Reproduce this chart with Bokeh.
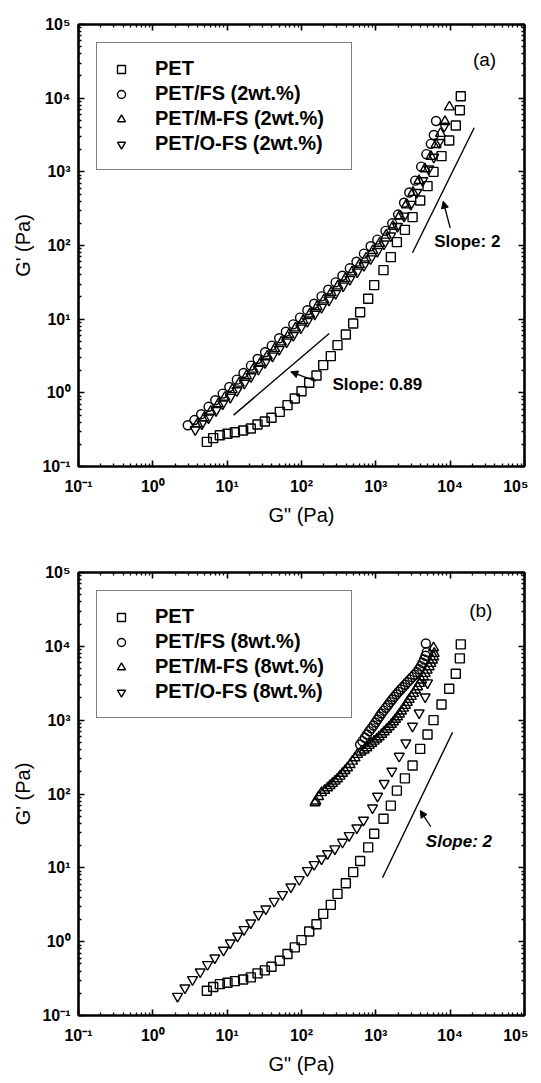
from bokeh.plotting import figure
from bokeh.layouts import column
from bokeh.models import (LogAxis, FixedTicker, Legend, LegendItem, Arrow, NormalHead,
                          Label, CustomJSTickFormatter)
from bokeh.embed import file_html
from bokeh.resources import INLINE

# ---------------- data ----------------
# neat PET (same sample in both panels)
pet_x = [5.33, 6.49, 7.97, 10.1, 12.7, 16.4, 20.8, 25.6, 32.1, 39.5, 51.1, 64.8, 81.3, 100, 127,
         159, 196, 248, 305, 395, 496, 615, 789, 950, 1268, 1592, 1920, 2460, 3120, 3950, 4960,
         5970, 7650, 9700, 11900, 13500, 13900]
pet_y = [0.216, 0.243, 0.266, 0.278, 0.292, 0.308, 0.328, 0.372, 0.408, 0.458, 0.552, 0.680, 0.838,
         1.05, 1.37, 1.72, 2.38, 3.15, 4.44, 6.19, 8.74, 12.4, 18.9, 29.0, 46.3, 69.5, 111, 163, 243,
         408, 639, 1000, 1632, 2663, 4256, 6870, 10640]

# panel (a): 2 wt.%
fs2_x = [2.95, 3.63, 4.47, 5.62, 6.92, 8.71, 10.7, 13.5, 16.6, 20.9, 25.7, 32.4, 39.8, 50.1, 61.7,
         77.6, 95.5, 120, 148, 186, 229, 288, 355, 447, 550, 692, 851, 1047, 1349, 1660, 1995, 2399,
         2818, 3388, 4074, 4786, 5495, 6026, 6457]
fs2_y = [0.363, 0.427, 0.513, 0.646, 0.794, 0.977, 1.20, 1.51, 1.86, 2.34, 2.88, 3.55, 4.37, 5.50,
         6.76, 8.51, 10.5, 13.2, 16.2, 20.4, 25.1, 31.6, 38.9, 49.0, 60.3, 77.6, 97.7, 120, 158, 200,
         263, 380, 525, 759, 1175, 1738, 2399, 3162, 4898]
mfs2_x = [3.98, 4.90, 6.03, 7.59, 9.33, 11.7, 14.5, 18.2, 22.4, 28.2, 34.7, 43.7, 53.7, 67.6, 83.2,
          105, 129, 162, 200, 251, 309, 389, 479, 603, 741, 912, 1122, 1380, 1698, 2089, 2570, 3162,
          3802, 4571, 5495, 6457, 7413, 8511, 9772]
mfs2_y = [0.380, 0.457, 0.562, 0.708, 0.871, 1.10, 1.35, 1.70, 2.09, 2.57, 3.16, 3.98, 4.90, 6.17,
          7.59, 9.55, 11.7, 14.8, 18.2, 22.9, 28.2, 35.5, 43.7, 55.0, 67.6, 85.1, 107, 138, 182, 251,
          355, 525, 759, 1096, 1622, 2344, 3311, 4786, 7586]
ofs2_x = [3.72, 4.57, 5.62, 7.08, 8.71, 11.0, 13.5, 17.0, 20.9, 26.3, 32.4, 40.7, 50.1, 63.1, 77.6,
          97.7, 120, 151, 186, 234, 288, 363, 447, 562, 692, 851, 1047, 1288, 1585, 1950, 2399, 2951,
          3548, 4266, 5129, 6026, 7079, 8318]
ofs2_y = [0.316, 0.380, 0.457, 0.575, 0.708, 0.871, 1.07, 1.35, 1.66, 2.09, 2.57, 3.16, 3.89, 4.90,
          6.03, 7.59, 9.33, 11.7, 14.5, 18.2, 22.4, 28.2, 34.7, 43.7, 53.7, 66.1, 83.2, 105, 135, 182,
          251, 363, 525, 759, 1096, 1585, 2512, 4169]

# panel (b): 8 wt.%
fs8_x = [615, 660, 711, 760, 814, 870, 931, 990, 1054, 1120, 1192, 1275, 1363, 1460, 1559, 1660,
         1766, 1890, 2018, 2160, 2309, 2480, 2668, 2870, 3084, 3320, 3563, 3800, 4033, 4250, 4467,
         4660, 4853, 4710]
fs8_y = [468, 520, 577, 640, 710, 775, 847, 930, 1021, 1120, 1231, 1345, 1468, 1605, 1753, 1905,
         2070, 2240, 2419, 2600, 2797, 3020, 3270, 3540, 3823, 4120, 4466, 4900, 5386, 5980, 6631,
         7450, 8337, 10920]
mfs8_x = [152, 156, 170, 186, 205, 224, 242, 261, 283, 305, 330, 356, 385, 416, 450, 486, 525, 567,
          630, 697, 755, 814, 880, 951, 1030, 1109, 1200, 1295, 1400, 1512, 1620, 1729, 1840, 1957,
          2080, 2216, 2360, 2507, 2650, 2809, 3000, 3214, 3420, 3638, 3870, 4118, 4360, 4613, 4900,
          5222, 5500, 5788, 6000, 6098, 5975]
mfs8_y = [76, 80, 92, 104, 112, 121, 130, 139, 149, 160, 174, 190, 207, 226, 250, 278, 308, 343,
          370, 393, 422, 454, 485, 519, 555, 594, 642, 695, 752, 813, 878, 949, 1025, 1109, 1210,
          1324, 1450, 1580, 1735, 1905, 2090, 2297, 2550, 2828, 3140, 3482, 3860, 4286, 4750, 5276,
          5850, 6495, 7200, 7998, 9543]
ofs8_x = [2.15, 2.70, 3.42, 4.34, 5.44, 6.82, 8.93, 11.0, 13.8, 16.9, 20.8, 26.4, 33.1, 42.9, 55.5,
          71.9, 93.1, 120, 148, 186, 224, 281, 356, 438, 555, 682, 902, 1054, 1295, 1642, 2061, 2533,
          3114, 3828, 4611, 4960]
ofs8_y = [0.182, 0.237, 0.307, 0.390, 0.491, 0.604, 0.767, 0.964, 1.19, 1.46, 1.80, 2.33, 2.78, 3.53,
          4.35, 5.53, 6.95, 9.20, 11.1, 13.2, 15.6, 18.1, 22.3, 27.4, 34.8, 44.2, 64.9, 93.4, 139, 204,
          325, 493, 830, 1256, 2069, 3206]

labels_a = ["PET", "PET/FS (2wt.%)", "PET/M-FS (2wt.%)", "PET/O-FS (2wt.%)"]
labels_b = ["PET", "PET/FS (8wt.%)", "PET/M-FS (8wt.%)", "PET/O-FS (8wt.%)"]

# guide lines and annotations
slope2a_x = [3112, 21060]
slope2a_y = [79.6, 3963]
slope089_x = [12.2, 236]
slope089_y = [0.498, 6.40]
slope2b_x = [1230, 10770]
slope2b_y = [7.33, 687]

FONT = "Liberation Sans"
majors = [0.1, 1, 10, 100, 1000, 10000, 100000]
minors = [m * 10.0 ** e for e in range(-1, 5) for m in range(2, 10)]

sup_js = """
const e = Math.round(Math.log10(tick));
const m = {'-':'\u207B','0':'\u2070','1':'\u00B9','2':'\u00B2','3':'\u00B3','4':'\u2074','5':'\u2075'};
return '10' + String(e).split('').map(c => m[c]).join('');
"""


def style_axis(ax, show_labels):
    ax.ticker = FixedTicker(ticks=majors, minor_ticks=minors)
    ax.axis_line_width = 2.2
    ax.axis_line_color = "black"
    ax.major_tick_in = 6
    ax.major_tick_out = 0
    ax.minor_tick_in = 3
    ax.minor_tick_out = 0
    ax.major_tick_line_width = 1.6
    ax.minor_tick_line_width = 1.3
    ax.major_tick_line_color = "black"
    ax.minor_tick_line_color = "black"
    if show_labels:
        ax.formatter = CustomJSTickFormatter(code=sup_js)
        ax.major_label_text_font = FONT
        ax.major_label_text_font_style = "bold"
        ax.major_label_text_font_size = "16px"
        ax.major_label_text_color = "black"
        ax.axis_label_text_font = FONT
        ax.axis_label_text_font_style = "normal"
        ax.axis_label_text_font_size = "20px"
        ax.axis_label_text_color = "black"
    else:
        ax.formatter = CustomJSTickFormatter(code="return '';")
        ax.major_label_text_font_size = "0px"
        ax.major_label_standoff = 0


def make_panel(series, labels, frame_h, top, bottom, tag, tag_xy, slopes, arrows, texts):
    p = figure(x_axis_type="log", y_axis_type="log", x_range=(0.1, 1e5), y_range=(0.1, 1e5),
               frame_width=446, frame_height=frame_h, min_border_left=78, min_border_right=4,
               min_border_top=top, min_border_bottom=bottom, output_backend="svg",
               toolbar_location=None, background_fill_color="white", border_fill_color="white")
    p.grid.visible = False
    p.outline_line_color = "black"
    p.outline_line_width = 2
    p.xaxis.axis_label = 'G" (Pa)'
    p.yaxis.axis_label = "G' (Pa)"
    style_axis(p.xaxis[0], True)
    style_axis(p.yaxis[0], True)
    p.xaxis.major_label_standoff = 11
    p.xaxis.axis_label_standoff = 6
    p.yaxis.major_label_standoff = 8
    p.yaxis.axis_label_standoff = 5
    ta = LogAxis()
    ra = LogAxis()
    style_axis(ta, False)
    style_axis(ra, False)
    p.add_layout(ta, "above")
    p.add_layout(ra, "right")

    markers = ["square", "circle", "triangle", "inverted_triangle"]
    sizes = [9, 9, 10, 10]
    rends = []
    for (xs, ys), mk, sz in zip(series, markers, sizes):
        r = p.scatter(xs, ys, marker=mk, size=sz, fill_alpha=0, line_color="black", line_width=1.4)
        rends.append(r)

    for xs, ys in slopes:
        p.line(xs, ys, line_color="black", line_width=1.4)
    for (x0, y0, x1, y1) in arrows:
        p.add_layout(Arrow(end=NormalHead(size=7, fill_color="black", line_color="black"),
                           x_start=x0, y_start=y0, x_end=x1, y_end=y1,
                           line_color="black", line_width=1.3))
    for (tx, ty, txt, st) in texts:
        p.add_layout(Label(x=tx, y=ty, text=txt, text_font=FONT, text_font_style=st,
                           text_font_size="17px", text_align="left", text_baseline="middle",
                           text_color="black"))
    p.add_layout(Label(x=tag_xy[0], y=tag_xy[1], text=tag, text_font=FONT,
                       text_font_size="19px", text_align="center", text_baseline="middle",
                       text_color="black"))

    legend = Legend(items=[LegendItem(label=l, renderers=[r]) for l, r in zip(labels, rends)],
                    location="top_left", margin=18, padding=14, spacing=2,
                    glyph_width=20, glyph_height=20, label_standoff=24, label_height=20,
                    label_width=182,
                    label_text_font=FONT, label_text_font_style="bold", label_text_font_size="20px",
                    label_text_color="black",
                    border_line_color="black", border_line_width=1.3, background_fill_alpha=1)
    p.add_layout(legend)
    return p


pa = make_panel([(pet_x, pet_y), (fs2_x, fs2_y), (mfs2_x, mfs2_y), (ofs2_x, ofs2_y)], labels_a,
                442, 24, 70, "(a)", (29000, 33500),
                [(slope2a_x, slope2a_y), (slope089_x, slope089_y)],
                [(10000, 174, 8050, 399), (156, 1.44, 71.8, 1.93)],
                [(6100, 115, "Slope: 2", "bold"), (261, 1.30, "Slope: 0.89", "bold")])
pb = make_panel([(pet_x, pet_y), (fs8_x, fs8_y), (mfs8_x, mfs8_y), (ofs8_x, ofs8_y)], labels_b,
                443, 36, 50, "(b)", (25800, 30500),
                [(slope2b_x, slope2b_y)],
                [(5495, 36.0, 3955, 59.7)],
                [(4710, 22.4, "Slope: 2", "bold italic")])

layout = column(pa, pb, spacing=0)
open("out.html", "w").write(file_html(layout, INLINE))
